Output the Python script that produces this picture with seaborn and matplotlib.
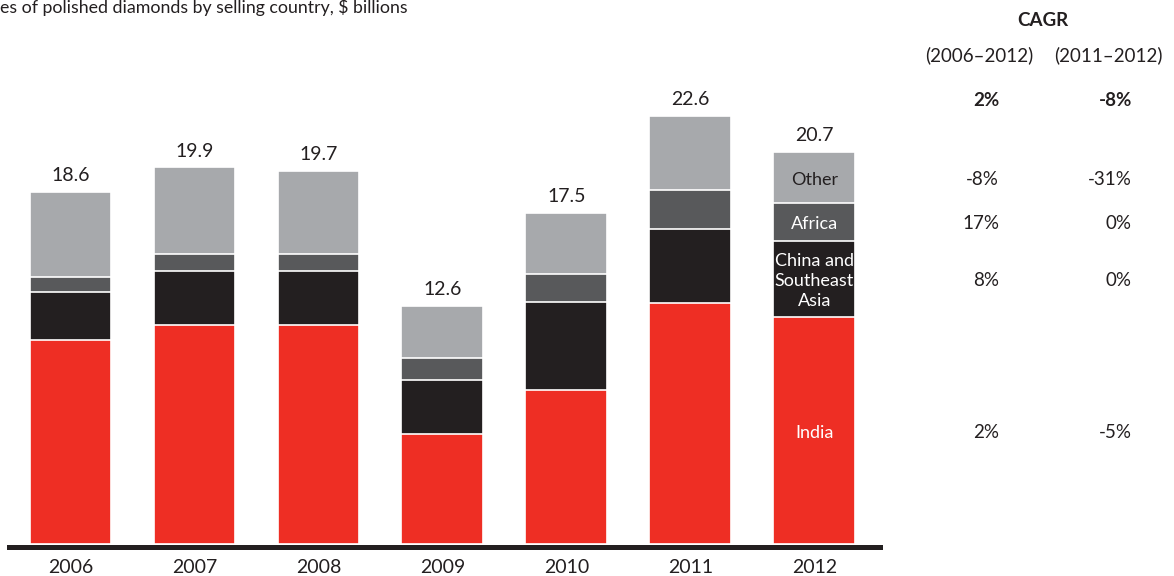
import matplotlib
import matplotlib.pyplot as plt
import matplotlib.transforms as mtransforms
import pandas as pd
import seaborn as sns

matplotlib.use("agg")

years = ["2006", "2007", "2008", "2009", "2010", "2011", "2012"]
india = [10.78, 11.56, 11.56, 5.83, 8.12, 12.72, 12.01]
china_sea = [2.52, 2.87, 2.87, 2.82, 4.65, 3.93, 4.00]
africa = [0.80, 0.88, 0.91, 1.20, 1.50, 2.04, 2.03]
other = [4.50, 4.59, 4.36, 2.75, 3.23, 3.91, 2.66]

segment_names = ["India", "China and\nSoutheast\nAsia", "Africa", "Other"]
segment_colors = ["#ee2e24", "#231f20", "#58595b", "#a7a9ac"]
label_colors = ["white", "white", "white", "#231f20"]

cagr_total = ["2%", "-8%"]
cagr_06_12 = ["2%", "8%", "17%", "-8%"]
cagr_11_12 = ["-5%", "0%", "0%", "-31%"]

TEXT = "#231f20"
W, H = 1174, 576

sns.set_theme(style="white")
plt.rcParams["font.family"] = ["Lato", "DejaVu Sans"]

df = pd.DataFrame(
    {"year": years, "India": india, "China": china_sea, "Africa": africa, "Other": other}
)
cols = ["India", "China", "Africa", "Other"]
cum = df[cols].cumsum(axis=1)
df["total"] = cum["Other"]

fig = plt.figure(figsize=(W / 100, H / 100), dpi=100)
ax = fig.add_axes([9 / W, (H - 544) / H, (880 - 9) / W, (544 - 20) / H])

# stacked look: draw cumulative heights from the top layer down
for col, color in reversed(list(zip(cols, segment_colors))):
    sns.barplot(
        x=df["year"],
        y=cum[col],
        order=years,
        color=color,
        saturation=1,
        width=0.66,
        edgecolor="white",
        linewidth=1.2,
        ax=ax,
    )

ax.set_xlim(-0.496, 6.53)
ax.set_ylim(0, 524 / 18.92)
ax.set_xlabel("")
ax.set_ylabel("")
ax.set_yticks([])
for side in ["left", "right", "top"]:
    ax.spines[side].set_visible(False)
ax.spines["bottom"].set_color(TEXT)
ax.spines["bottom"].set_linewidth(3.6)
ax.spines["bottom"].set_position(("outward", 2))
ax.tick_params(axis="x", length=0, pad=9, labelsize=14, labelcolor=TEXT)

for i, total in enumerate(df["total"]):
    ax.text(i, total + 0.42, f"{total:.1f}", ha="center", va="bottom",
            fontsize=14, color=TEXT)

# segment labels inside the 2012 bar
last = len(years) - 1
bottoms = [0] + list(cum.iloc[last, :-1])
for name, col, bot, lc in zip(segment_names, cols, bottoms, label_colors):
    mid = bot + df.loc[last, col] / 2
    ax.text(last, mid - 0.12, name, ha="center", va="center", fontsize=13,
            color=lc, linespacing=1.3)

# title and CAGR table
fig.text(0, 1 - 13 / H, "es of polished diamonds by selling country, $ billions",
         ha="left", va="baseline", fontsize=12.8, color=TEXT)
fig.text(1043 / W, 1 - 20 / H, "CAGR", ha="center", va="center",
         fontsize=13.5, fontweight="bold", color=TEXT)
fig.text(979 / W, 1 - 55 / H, "(2006–2012)", ha="center", va="center",
         fontsize=13.5, color=TEXT)
fig.text(1108 / W, 1 - 55 / H, "(2011–2012)", ha="center", va="center",
         fontsize=13.5, color=TEXT)

trans = mtransforms.blended_transform_factory(fig.transFigure, ax.transData)
col_x = [999 / W, 1132 / W]
for x, val in zip(col_x, cagr_total):
    fig.text(x, (544 - 100) / 18.92, val, ha="right", va="center", fontsize=13.5,
             fontweight="bold", color=TEXT, transform=trans)
for i, col in enumerate(cols):
    mid = bottoms[i] + df.loc[last, col] / 2
    fig.text(col_x[0], mid - 0.1, cagr_06_12[i], ha="right", va="center",
             fontsize=13.5, color=TEXT, transform=trans)
    fig.text(col_x[1], mid - 0.1, cagr_11_12[i], ha="right", va="center",
             fontsize=13.5, color=TEXT, transform=trans)

fig.savefig("out.png", dpi=100)
